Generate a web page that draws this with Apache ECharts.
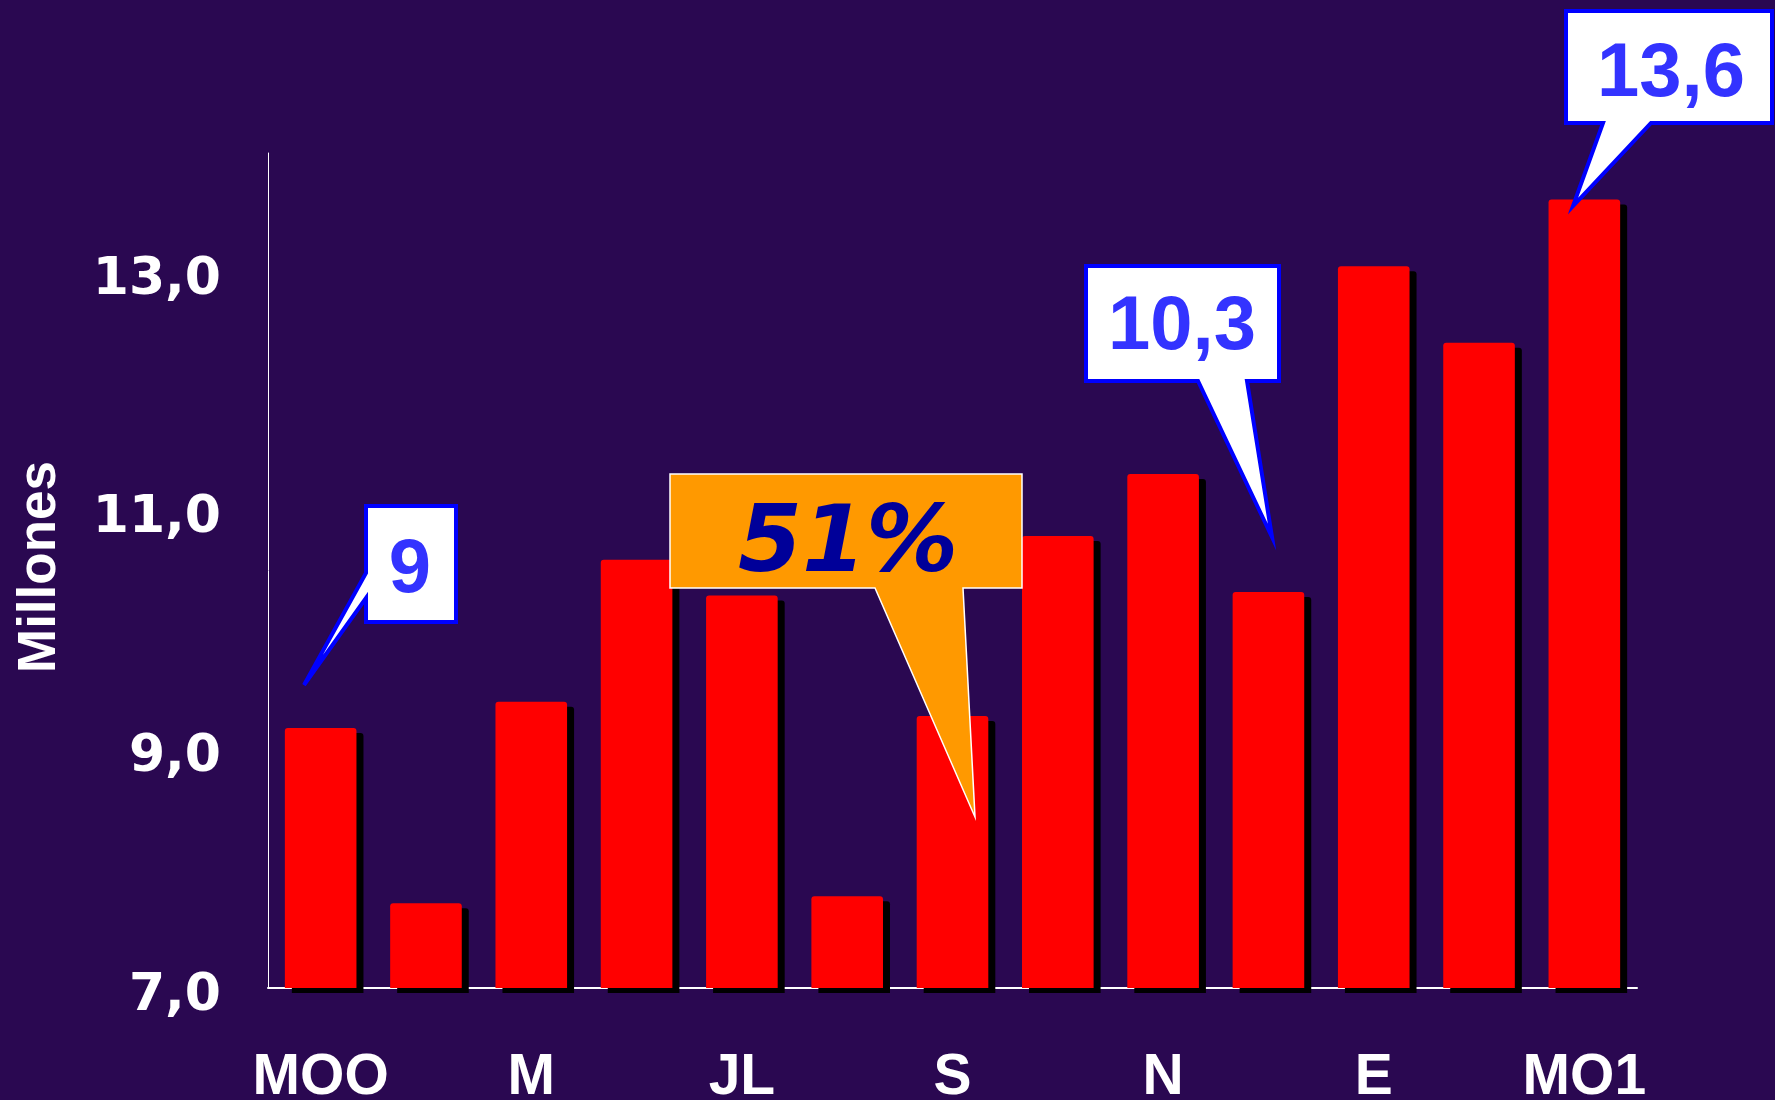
<!DOCTYPE html>
<html>
<head>
<meta charset="utf-8">
<script src="https://cdn.jsdelivr.net/npm/echarts@6/dist/echarts.min.js"></script>
<style>
html,body{margin:0;padding:0;background:#2a0851;}
#chart{width:1775px;height:1100px;}
</style>
</head>
<body>
<div id="chart"></div>
<script>
// ---- data ----
const categories = ['MOO','','M','','JL','','S','','N','','E','','MO1'];
const values = [9.18, 7.71, 9.40, 10.59, 10.29, 7.77, 9.28, 10.79, 11.31, 10.32, 13.05, 12.41, 13.61];
const yTickValues = [7, 9, 11, 13];
const yTickLabels = ['7,0', '9,0', '11,0', '13,0'];
const yAxisName = 'Millones';
const calloutTexts = ['9', '10,3', '13,6'];
const highlightText = '51%';

const chart = echarts.init(document.getElementById('chart'), null, {renderer: 'canvas'});

function labelFor(v) {
  const i = yTickValues.indexOf(v);
  return i >= 0 ? '{t|' + yTickLabels[i] + '}' : '';
}

const blueBorder = '#0000ff';
const blueText = '#3333ff';
const calloutFont = 'bold 76px "Liberation Sans", Arial, sans-serif';

const option = {
  backgroundColor: '#2a0851',
  animation: false,
  grid: {left: 268, right: 138, top: 153, bottom: 112, containLabel: false, outerBoundsMode: 'none'},
  xAxis: {
    type: 'category',
    data: categories,
    axisLine: {show: true, lineStyle: {color: '#ffffff', width: 2}},
    axisTick: {show: false},
    axisLabel: {
      interval: 0,
      color: '#ffffff',
      fontFamily: '"Liberation Sans", Arial, sans-serif',
      fontWeight: 'bold',
      fontSize: 57,
      margin: 90,
      verticalAlign: 'middle'
    },
    splitLine: {show: false}
  },
  yAxis: {
    type: 'value',
    min: 7,
    max: 14,
    interval: 2,
    axisLine: {show: true, lineStyle: {color: '#ffffff', width: 1}},
    axisTick: {show: false},
    splitLine: {show: false},
    axisLabel: {
      showMaxLabel: false,
      margin: 47,
      formatter: labelFor,
      rich: {
        t: {
          color: '#ffffff',
          fontFamily: '"DejaVu Sans", Verdana, sans-serif',
          fontWeight: 'bold',
          fontSize: 52,
          lineHeight: 60,
          padding: [16, 0, 0, 0]
        }
      }
    }
  },
  series: [{
    type: 'bar',
    data: values,
    barCategoryGap: '32%',
    itemStyle: {
      color: '#ff0000',
      borderRadius: [3, 3, 0, 0],
      shadowColor: '#000000',
      shadowBlur: 0,
      shadowOffsetX: 7,
      shadowOffsetY: 5
    },
    z: 2
  }],
  graphic: [
    {
      type: 'text', z: 50,
      x: 40, y: 567, rotation: Math.PI / 2,
      style: {text: yAxisName, fill: '#ffffff', font: 'bold 53px "Liberation Sans", Arial, sans-serif',
        textAlign: 'center', textVerticalAlign: 'middle', align: 'center', verticalAlign: 'middle'}
    },
    // callout "9"
    {
      type: 'polygon', z: 100,
      shape: {points: [[366,506],[456,506],[456,622],[366,622],[366,598],[304,685],[366,573]]},
      style: {fill: '#ffffff', stroke: blueBorder, lineWidth: 4, lineJoin: 'miter'}
    },
    {
      type: 'text', z: 101, x: 410, y: 571,
      style: {text: calloutTexts[0], fill: blueText, font: calloutFont,
        textAlign: 'center', textVerticalAlign: 'middle', align: 'center', verticalAlign: 'middle'}
    },
    // callout "10,3"
    {
      type: 'polygon', z: 100,
      shape: {points: [[1086,266],[1279,266],[1279,381],[1247,381],[1272,537],[1198,381],[1086,381]]},
      style: {fill: '#ffffff', stroke: blueBorder, lineWidth: 4, lineJoin: 'miter'}
    },
    {
      type: 'text', z: 101, x: 1182, y: 328,
      style: {text: calloutTexts[1], fill: blueText, font: calloutFont,
        textAlign: 'center', textVerticalAlign: 'middle', align: 'center', verticalAlign: 'middle'}
    },
    // callout "13,6"
    {
      type: 'polygon', z: 100,
      shape: {points: [[1566,11],[1772,11],[1772,123],[1651,123],[1573,206],[1603,123],[1566,123]]},
      style: {fill: '#ffffff', stroke: blueBorder, lineWidth: 4, lineJoin: 'miter'}
    },
    {
      type: 'text', z: 101, x: 1671, y: 75,
      style: {text: calloutTexts[2], fill: blueText, font: calloutFont,
        textAlign: 'center', textVerticalAlign: 'middle', align: 'center', verticalAlign: 'middle'}
    },
    // orange "51%" callout
    {
      type: 'polygon', z: 100,
      shape: {points: [[670,474],[1022,474],[1022,588],[963,588],[975,817],[875,588],[670,588]]},
      style: {fill: '#ff9900', stroke: '#ffffff', lineWidth: 1.5, lineJoin: 'miter'}
    },
    {
      type: 'text', z: 101, x: 848, y: 547,
      style: {text: highlightText, fill: '#000099', font: 'italic bold 92px "DejaVu Sans", Verdana, sans-serif',
        textAlign: 'center', textVerticalAlign: 'middle', align: 'center', verticalAlign: 'middle'}
    }
  ]
};

chart.setOption(option);
</script>
</body>
</html>
